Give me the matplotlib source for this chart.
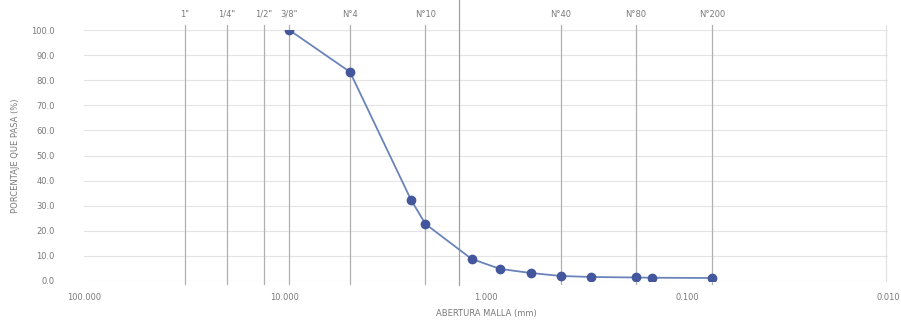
import matplotlib.pyplot as plt
from matplotlib.ticker import FixedLocator, FuncFormatter, NullLocator

# Granulometria: abertura de malla (mm) vs porcentaje que pasa
abertura = [9.525, 4.75, 2.36, 2.0, 1.18, 0.85, 0.60, 0.425, 0.30, 0.18, 0.15, 0.075]
pasa = [100.0, 83.3, 32.3, 22.7, 8.8, 4.8, 3.2, 2.0, 1.6, 1.4, 1.3, 1.2]

# Tamices marcados con linea vertical
tamiz_nombre = ['1"', '1/4"', '1/2"', '3/8"', 'N°4', 'N°10', 'N°40', 'N°80', 'N°200']
tamiz_abertura = [31.5, 19.4, 12.7, 9.525, 4.75, 2.0, 0.425, 0.18, 0.075]

x_ticks = [100, 10, 1, 0.1, 0.01]
y_ticks = [0, 10, 20, 30, 40, 50, 60, 70, 80, 90, 100]

txt = '#7a7a7a'

fig = plt.figure(figsize=(9.01, 3.2), dpi=100)
ax = fig.add_axes([84 / 901, 39 / 320, 804 / 901, 251 / 320])

ax.set_xscale('log')
ax.set_xlim(100, 0.01)
ax.set_ylim(0, 100)

# lineas horizontales de referencia
for y in y_ticks:
    ax.axhline(y, color='#e4e4e4', lw=0.8, zorder=0)

# lineas de tamices con su nombre arriba
for nombre, ab in zip(tamiz_nombre, tamiz_abertura):
    ax.plot([ab, ab], [-1, 102], color='#b0b0b0', lw=0.9, clip_on=False, zorder=1)
    ax.text(ab, 104.5, nombre, ha='center', va='bottom', fontsize=6, color=txt)

# linea suelta cerca de 1.36 mm que llega hasta arriba
ax.plot([1.36, 1.36], [-1.5, 112], color='#a0a0a0', lw=0.9, clip_on=False, zorder=1)
# borde derecho
ax.plot([0.0102, 0.0102], [0, 102], color='#e0e0e0', lw=0.8, clip_on=False, zorder=0)

ax.plot(abertura, pasa, color='#6a84bb', lw=1.3, zorder=3)
ax.plot(abertura, pasa, 'o', color='#44569c', markersize=6, zorder=4)

for s in ax.spines.values():
    s.set_visible(False)

ax.xaxis.set_major_locator(FixedLocator(x_ticks))
ax.xaxis.set_minor_locator(NullLocator())
ax.xaxis.set_major_formatter(FuncFormatter(lambda v, p: f'{v:.3f}'))
ax.set_yticks(y_ticks)
ax.yaxis.set_major_formatter(FuncFormatter(lambda v, p: f'{v:.1f}'))
ax.tick_params(axis='x', length=0, pad=9, labelsize=6, labelcolor=txt)
ax.tick_params(axis='y', length=0, pad=21, labelsize=6, labelcolor=txt)

ax.set_xlabel('ABERTURA MALLA (mm)', fontsize=6, color=txt, labelpad=5)
ax.set_ylabel('PORCENTAJE QUE PASA (%)', fontsize=6, color=txt, labelpad=8)

fig.savefig('out.png', dpi=100)
